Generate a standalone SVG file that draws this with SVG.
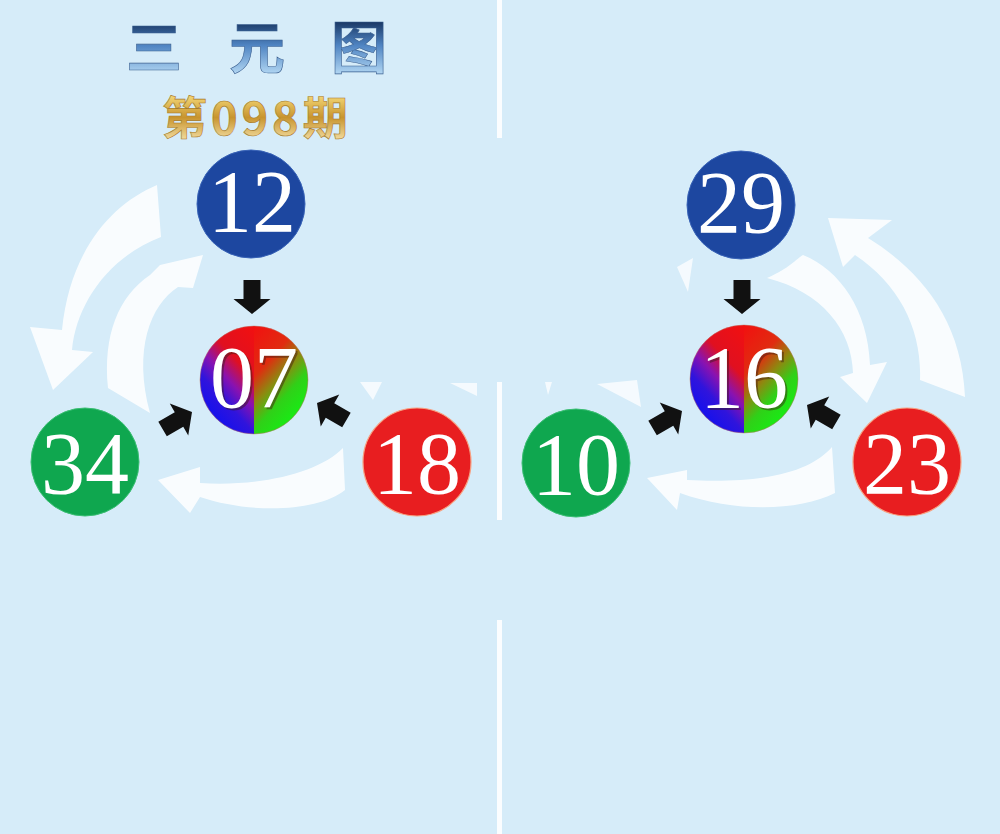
<svg xmlns="http://www.w3.org/2000/svg" width="1000" height="834" viewBox="0 0 1000 834">
<style>
.num{font-family:"Liberation Serif","Times New Roman",serif;font-size:88px;fill:#ffffff;text-anchor:middle}
.shadow{fill:#3a1a10;opacity:0.45}
.title{font-family:"Noto Sans CJK SC","Noto Sans",sans-serif;font-weight:700;font-size:56px;text-anchor:middle;fill:url(#gTitle);stroke:#3a5f90;stroke-width:0.6}
.issue{font-family:"Noto Sans CJK SC","Noto Sans",sans-serif;font-weight:700;font-size:45px;fill:url(#gGold);stroke:#a87a28;stroke-width:0.6;letter-spacing:4px}
.flow{fill:#ffffff;opacity:0.85}
.frag{fill:#ffffff;opacity:0.75}
.barrow{fill:#111111}
.blue{fill:#1d47a0;stroke:#3a64b8;stroke-width:1}
.green{fill:#0fa74f;stroke:#3cbf74;stroke-width:1}
.red{fill:#e81e20;stroke:#f8a080;stroke-width:1.2}
.divider{fill:#ffffff;opacity:0.9}
</style>
<defs>
<linearGradient id="gTitle" x1="0" y1="20" x2="0" y2="76" gradientUnits="userSpaceOnUse">
<stop offset="0" stop-color="#16325e"/>
<stop offset="0.45" stop-color="#4f84c2"/>
<stop offset="1" stop-color="#b8dcf6"/>
</linearGradient>
<linearGradient id="gGold" x1="0" y1="95" x2="0" y2="140" gradientUnits="userSpaceOnUse">
<stop offset="0" stop-color="#f4d878"/>
<stop offset="0.5" stop-color="#c8942e"/>
<stop offset="1" stop-color="#f2dca0"/>
</linearGradient>
<linearGradient id="hL" x1="1" y1="0" x2="0.45" y2="1">
<stop offset="0" stop-color="#f21010"/>
<stop offset="0.38" stop-color="#e01020"/>
<stop offset="0.58" stop-color="#8a12b0"/>
<stop offset="0.76" stop-color="#3014dc"/>
<stop offset="1" stop-color="#1010f0"/>
</linearGradient>
<linearGradient id="hR" x1="0" y1="0" x2="0.55" y2="1">
<stop offset="0" stop-color="#f21010"/>
<stop offset="0.36" stop-color="#e02c10"/>
<stop offset="0.56" stop-color="#8c8a10"/>
<stop offset="0.74" stop-color="#30d018"/>
<stop offset="1" stop-color="#14f014"/>
</linearGradient>
<path id="arw" d="M0,0 L-15,-18.5 L-15,-8.5 L-34,-8.5 L-34,8.5 L-15,8.5 L-15,18.5 Z"/>
<g id="mix">
<path d="M0,-54 A54,54 0 0 0 0,54 Z" fill="url(#hL)"/>
<path d="M0,-54 A54,54 0 0 1 0,54 Z" fill="url(#hR)"/>
<circle r="54" fill="none" stroke="#c07060" stroke-width="0.8" opacity="0.6"/>
</g>
</defs>

<rect x="0" y="0" width="1000" height="834" fill="#d6ecf9"/>

<g id="dividers">
<rect class="divider" x="497" y="0" width="5" height="138"/>
<rect class="divider" x="497" y="382" width="5" height="138"/>
<rect class="divider" x="497" y="620" width="5" height="214"/>
</g>

<g id="title">
<text class="title" x="154" y="68">三</text>
<text class="title" x="257" y="68">元</text>
<text class="title" x="359" y="68">图</text>
</g>
<g id="issue">
<text class="issue" x="162" y="135">第098期</text>
</g>

<g id="connectors">
<path class="flow" d="M157,185 C112,204 70,250 62,330 L30,327 L53,390 L93,352 L72,350 C76,305 108,257 161,237 Z"/>
<path class="flow" d="M203,255 L193,288 L178,287 C150,305 133,350 150,413 L108,388 C103,335 118,297 150,275 L160,265 Z"/>
<path class="flow" d="M343,448 C320,472 262,487 200,483 L200,467 L158,480 L190,513 L200,497 C250,514 318,512 345,490 Z"/>
<path class="frag" d="M360,382 L382,382 L373,400 Z"/>
<path class="frag" d="M450,383 L477,383 L477,396 Z"/>
<path class="flow" d="M828,218 L892,220 L868,238 C920,270 962,320 965,397 L920,380 C922,330 900,285 855,255 L843,267 Z"/>
<path class="flow" d="M767,278 C790,268 796,259 803,255 C840,270 868,310 870,365 L887,362 L867,403 L840,377 L853,373 C852,330 822,292 767,278 Z"/>
<path class="flow" d="M832,447 C812,470 770,484 687,480 L687,470 L647,478 L677,510 L680,493 C735,513 800,511 835,493 Z"/>
<path class="frag" d="M677,267 L693,258 L688,292 Z"/>
<path class="frag" d="M597,384 L637,380 L641,407 Z"/>
<path class="frag" d="M545,382 L552,382 L548,395 Z"/>
<use href="#arw" class="barrow" transform="translate(252,314) rotate(90)"/>
<use href="#arw" class="barrow" transform="translate(192,412) rotate(-30)"/>
<use href="#arw" class="barrow" transform="translate(317,403) rotate(210)"/>
<use href="#arw" class="barrow" transform="translate(742,314) rotate(90)"/>
<use href="#arw" class="barrow" transform="translate(682,411) rotate(-30)"/>
<use href="#arw" class="barrow" transform="translate(807,405) rotate(210)"/>
</g>

<g id="node-12">
<circle class="blue" cx="251" cy="204" r="54"/>
<text class="num" x="252" y="231">12</text>
</g>
<g id="node-07">
<use href="#mix" transform="translate(254,380)"/>
<text class="num shadow" x="256" y="409">07</text>
<text class="num" x="254" y="407">07</text>
</g>
<g id="node-34">
<circle class="green" cx="85" cy="462" r="54"/>
<text class="num" x="85" y="493">34</text>
</g>
<g id="node-18">
<circle class="red" cx="417" cy="462" r="54"/>
<text class="num" x="417" y="493">18</text>
</g>

<g id="node-29">
<circle class="blue" cx="741" cy="205" r="54"/>
<text class="num" x="741" y="232">29</text>
</g>
<g id="node-16">
<use href="#mix" transform="translate(744,379)"/>
<text class="num shadow" x="746" y="409">16</text>
<text class="num" x="744" y="407">16</text>
</g>
<g id="node-10">
<circle class="green" cx="576" cy="463" r="54"/>
<text class="num" x="576" y="494">10</text>
</g>
<g id="node-23">
<circle class="red" cx="907" cy="462" r="54"/>
<text class="num" x="907" y="493">23</text>
</g>
</svg>
